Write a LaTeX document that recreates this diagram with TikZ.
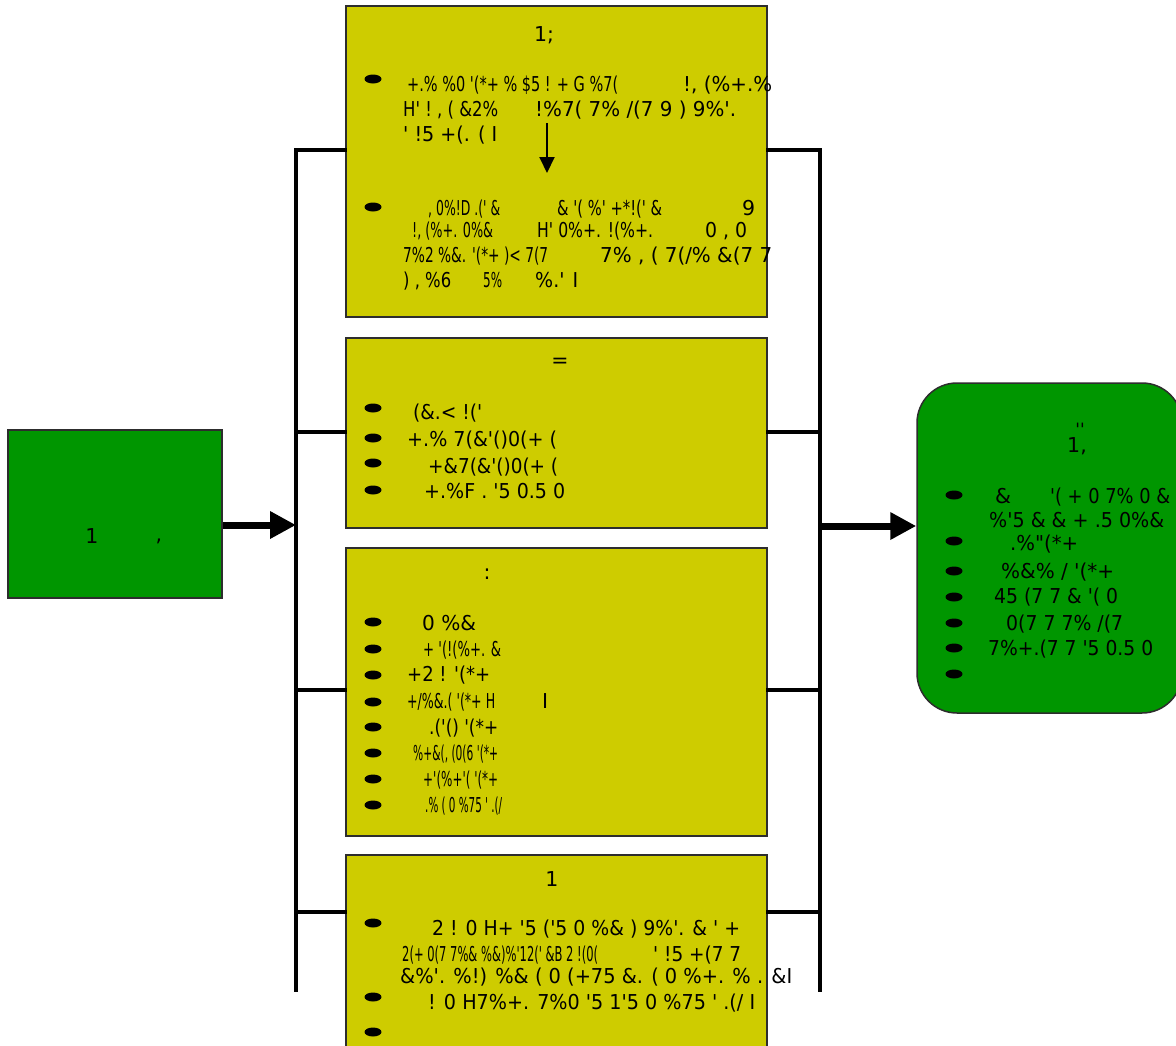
\documentclass[tikz,border=0pt]{standalone}
\usepackage{fontspec}
\usepackage{graphicx}
\usetikzlibrary{arrows.meta,shapes.geometric}
\newfontfamily\df{DejaVu Sans}
\newcommand\fw[2]{\resizebox{#1pt}{\height}{#2}}
\definecolor{yb}{RGB}{206,204,0}
\definecolor{gb}{RGB}{0,150,0}
\definecolor{edge}{RGB}{45,45,45}
\begin{document}
\begin{tikzpicture}[x=1pt,y=-1pt,
  tx/.style={font=\df\fontsize{20.5}{24}\selectfont, inner sep=0pt, anchor=base west},
  ttl/.style={tx, anchor=base},
  ybox/.style={draw=edge, line width=1.5pt, fill=yb, inner sep=0pt},
  gbox/.style={draw=edge, line width=1.5pt, fill=gb, inner sep=0pt},
  bul/.style={ellipse, fill=black, minimum width=17pt, minimum height=9pt, inner sep=0pt},
  brk/.style={line width=3.2pt, line cap=rect},
  bigarrow/.style={line width=7pt, -{Triangle[length=26pt,width=26pt]}},
  smallarrow/.style={line width=2pt, -{Triangle[length=16pt,width=15pt]}}]
\useasboundingbox (0,0) rectangle (1176,1045);
\fill[white] (0,0) rectangle (1176,1045);

% bracket junctions
\coordinate (lt) at (296,150);
\coordinate (l2) at (296,432);
\coordinate (l3) at (296,690);
\coordinate (l4) at (296,912);
\coordinate (lb) at (296,990);
\coordinate (rt) at (820,150);
\coordinate (r2) at (820,432);
\coordinate (r3) at (820,690);
\coordinate (r4) at (820,912);
\coordinate (rb) at (820,990);
\coordinate (la) at (296,525);
\coordinate (ra) at (820,526);
\coordinate (va1) at (547,123);
\coordinate (va2) at (547,173);

% boxes
\node[gbox, minimum width=214, minimum height=168] (lbox) at (115,514) {};
\node[ybox, minimum width=421, minimum height=311] (box1) at (556.5,161.5) {};
\node[ybox, minimum width=421, minimum height=190] (box2) at (556.5,433) {};
\node[ybox, minimum width=421, minimum height=288] (box3) at (556.5,692) {};
\node[ybox, minimum width=421, minimum height=200] (box4) at (556.5,955) {};
\node[gbox, rounded corners=40pt, minimum width=265, minimum height=330] (rbox) at (1049.5,548) {};

% connectors
\draw[brk] (lt -| box1.west) -- (lt) -- (lb);
\draw[brk] (l2) -- (l2 -| box2.west);
\draw[brk] (l3) -- (l3 -| box3.west);
\draw[brk] (l4) -- (l4 -| box4.west);
\draw[brk] (rt -| box1.east) -- (rt) -- (rb);
\draw[brk] (r2) -- (r2 -| box2.east);
\draw[brk] (r3) -- (r3 -| box3.east);
\draw[brk] (r4) -- (r4 -| box4.east);
\draw[bigarrow] (la -| lbox.east) -- (la);
\draw[bigarrow] (ra) -- (ra -| rbox.west);
\draw[smallarrow] (va1) -- (va2);

% left box text
\node[ttl] (t49) at (92,543) {1};
\node[ttl] (t50) at (159,541) {,};

% box 1
\node[ttl] (t1) at (544,41) {1;};
\node[bul] (b1) at (373,79) {};
\node[tx] (t2) at (407,91) {\fw{211}{+.\% \%0 '(*+ \% \$5 ! + G \%7(}};
\node[tx] (t3) at (683,91) {\fw{89}{!, (\%+.\%}};
\node[tx] (t4) at (403,116) {\fw{95}{H' ! , ( \&2\%}};
\node[tx] (t5) at (535,116) {\fw{201}{!\%7( 7\% /(7 9 ) 9\%'.}};
\node[tx] (t6) at (403,141) {\fw{94}{' !5 +(. ( I}};
\node[bul] (b2) at (373,207) {};
\node[tx] (t7) at (428,215) {\fw{72}{, 0\%!D .(' \&}};
\node[tx] (t8) at (557,215) {\fw{105}{\& '( \%' +*!(' \&}};
\node[tx] (t9) at (742,215) {9};
\node[tx] (t10) at (412,237) {\fw{81}{!, (\%+. 0\%\&}};
\node[tx] (t11) at (537,237) {\fw{116}{H' 0\%+. !(\%+.}};
\node[tx] (t12) at (705,237) {\fw{42}{0 , 0}};
\node[tx] (t13) at (403,262) {\fw{145}{7\%2 \%\&. '(*+ )< 7(7}};
\node[tx] (t14) at (600,262) {\fw{172}{7\% , ( 7(/\% \&(7 7}};
\node[tx] (t15) at (403,287) {\fw{48}{) , \%6}};
\node[tx] (t16) at (483,287) {\fw{19}{5\%}};
\node[tx] (t17) at (535,287) {\fw{43}{\%.' I}};

% box 2
\node[ttl] (t18) at (560,367) {=};
\node[bul] (b3) at (373,408) {};
\node[bul] (b4) at (373,438) {};
\node[bul] (b5) at (373,463) {};
\node[bul] (b6) at (373,490) {};
\node[tx] (t19) at (413,419) {\fw{69}{(\&.< !('}};
\node[tx] (t20) at (407,446) {\fw{150}{+.\% 7(\&'()0(+ (}};
\node[tx] (t21) at (428,473) {\fw{130}{+\&7(\&'()0(+ (}};
\node[tx] (t22) at (424,498) {\fw{141}{+.\%F . '5 0.5 0}};

% box 3
\node[ttl] (t23) at (487,579) {:};
\node[bul] (b7) at (373,622) {};
\node[bul] (b8) at (373,649) {};
\node[bul] (b9) at (373,675) {};
\node[bul] (b10) at (373,702) {};
\node[bul] (b11) at (373,727) {};
\node[bul] (b12) at (373,753) {};
\node[bul] (b13) at (373,779) {};
\node[bul] (b14) at (373,805) {};
\node[tx] (t24) at (422,630) {\fw{54}{0 \%\&}};
\node[tx] (t25) at (423,656) {\fw{78}{+ '(!(\%+. \&}};
\node[tx] (t26) at (407,681) {\fw{83}{+2 ! '(*+}};
\node[tx] (t27) at (407,708) {\fw{88}{+/\%\&.( '(*+ H}};
\node[tx] (t28) at (542,708) {I};
\node[tx] (t29) at (429,734) {\fw{69}{.('() '(*+}};
\node[tx] (t30) at (413,760) {\fw{85}{\%+\&(, (0(6 '(*+}};
\node[tx] (t31) at (423,786) {\fw{75}{+'(\%+'( '(*+}};
\node[tx] (t32) at (425,812) {\fw{77}{.\% ( 0 \%75 ' .(/}};

% box 4
\node[ttl] (t33) at (552,886) {1};
\node[bul] (b15) at (373,923) {};
\node[bul] (b16) at (373,997) {};
\node[bul] (b17) at (373,1032) {};
\node[tx] (t34) at (432,935) {\fw{308}{2 ! 0 H+ '5 ('5 0 \%\& ) 9\%'. \& ' +}};
\node[tx] (t35) at (402,961) {\fw{196}{2(+ 0(7 7\%\& \%\&)\%'12(' \&B 2 !(0(}};
\node[tx] (t36) at (653,961) {\fw{88}{' !5 +(7 7}};
\node[tx] (t37) at (400,983) {\fw{392}{\&\%'. \%!) \%\& ( 0 (+75 \&. ( 0 \%+. \% . \&I}};
\node[tx] (t38) at (428,1009) {\fw{327}{! 0 H7\%+. 7\%0 '5 1'5 0 \%75 ' .(/ I}};

% right box
\node[ttl, font=\df\fontsize{17}{20}\selectfont] (t39) at (1080,435) {''};
\node[ttl] (t40) at (1077,452) {1,};
\node[bul] (b18) at (954,495) {};
\node[bul] (b19) at (954,541) {};
\node[bul] (b20) at (954,571) {};
\node[bul] (b21) at (954,597) {};
\node[bul] (b22) at (954,623) {};
\node[bul] (b23) at (954,648) {};
\node[bul] (b24) at (954,674) {};
\node[tx] (t41) at (995,503) {\&};
\node[tx] (t42) at (1050,503) {\fw{120}{'( + 0 7\% 0 \&}};
\node[tx] (t43) at (989,527) {\fw{175}{\%'5 \& \& + .5 0\%\&}};
\node[tx] (t44) at (1010,550) {\fw{68}{.\%"(*+}};
\node[tx] (t45) at (1001,578) {\fw{113}{\%\&\% / '(*+}};
\node[tx] (t46) at (994,603) {\fw{124}{45 (7 7 \& '( 0}};
\node[tx] (t47) at (1006,630) {\fw{117}{0(7 7 7\% /(7}};
\node[tx] (t48) at (988,655) {\fw{165}{7\%+.(7 7 '5 0.5 0}};
\end{tikzpicture}
\end{document}
